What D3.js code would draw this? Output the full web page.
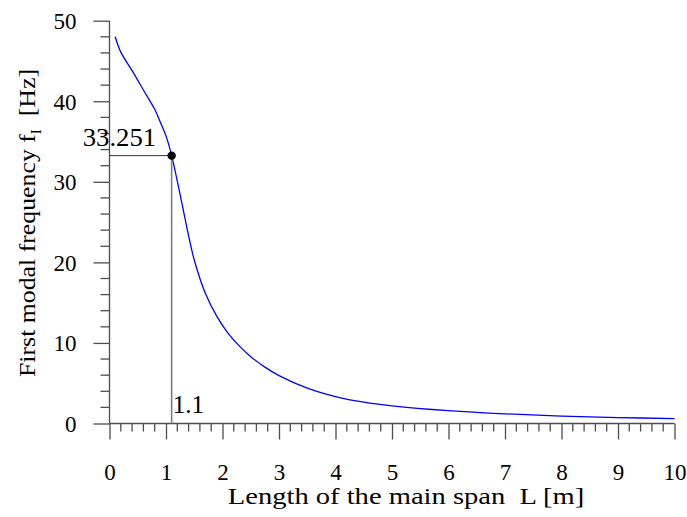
<!DOCTYPE html>
<html>
<head>
<meta charset="utf-8">
<script src="https://cdn.jsdelivr.net/npm/d3@7"></script>
<style>
  html, body { margin: 0; padding: 0; background: #fff; }
  svg { display: block; }
  text { font-family: "Liberation Serif", "Times New Roman", serif; fill: #000; }
</style>
</head>
<body>
<svg id="chart" width="687" height="517"></svg>
<script>
// Span length L [m] and first modal frequency f_I [Hz]
const spanLength = [0.1, 0.2, 0.4, 0.6, 0.8, 0.9, 1.0, 1.1, 1.25, 1.4, 1.5, 1.7, 1.9, 2.1, 2.3, 2.5, 2.75, 3.0, 3.5, 4.0, 4.5, 5.0, 6.0, 7.0, 8.0, 9.0, 10.0];
const frequency  = [48.0, 46.1, 43.8, 41.4, 39.0, 37.4, 35.7, 33.251, 28.4, 23.3, 20.3, 16.1, 13.3, 11.2, 9.6, 8.3, 7.0, 5.95, 4.4, 3.35, 2.65, 2.2, 1.6, 1.2, 0.92, 0.74, 0.6];

// Highlighted design point
const markL = [1.1];
const markF = [33.251];
const markLabels = ["33.251", "1.1"];

const xTicks = [0, 1, 2, 3, 4, 5, 6, 7, 8, 9, 10];
const yTicks = [0, 10, 20, 30, 40, 50];

const svg = d3.select("#chart");
const x = d3.scaleLinear().domain([0, 10]).range([109.5, 674.5]);
const y = d3.scaleLinear().domain([0, 50]).range([423.5, 20.7]);

const axisColor = "#4d4d4d";

// Y axis: major ticks every 10, minor every 2
const yAxisMajor = d3.axisLeft(y).tickValues(yTicks).tickSize(16).tickPadding(17).tickFormat(d3.format("d"));
const gY = svg.append("g").attr("transform", `translate(${x(0)},0)`).call(yAxisMajor);
gY.select(".domain").remove();
gY.selectAll(".tick line").attr("stroke", axisColor).attr("stroke-width", 1.3);
gY.selectAll(".tick text").style("font-size", "23px").attr("dy", "0.34em");

const yMinor = d3.range(0, 50.001, 2).filter(v => v % 10 !== 0);
svg.append("g").selectAll("line").data(yMinor).join("line")
  .attr("x1", x(0) - 9).attr("x2", x(0))
  .attr("y1", d => y(d)).attr("y2", d => y(d))
  .attr("stroke", axisColor).attr("stroke-width", 1.3);

svg.append("line")
  .attr("x1", x(0)).attr("x2", x(0)).attr("y1", y(50)).attr("y2", y(0))
  .attr("stroke", axisColor).attr("stroke-width", 1.3);

// X axis: major ticks every 1, minor every 0.2
const xAxisMajor = d3.axisBottom(x).tickValues(xTicks).tickSize(16).tickPadding(24).tickFormat(d3.format("d"));
const gX = svg.append("g").attr("transform", `translate(0,${y(0)})`).call(xAxisMajor);
gX.select(".domain").remove();
gX.selectAll(".tick line").attr("stroke", axisColor).attr("stroke-width", 1.3);
gX.selectAll(".tick text").style("font-size", "23px");

const xMinor = d3.range(0, 50).map(i => i * 0.2).filter((v, i) => i % 5 !== 0);
svg.append("g").selectAll("line").data(xMinor).join("line")
  .attr("x1", d => x(d)).attr("x2", d => x(d))
  .attr("y1", y(0)).attr("y2", y(0) + 8)
  .attr("stroke", axisColor).attr("stroke-width", 1.3);

svg.append("line")
  .attr("x1", x(0)).attr("x2", x(10)).attr("y1", y(0)).attr("y2", y(0))
  .attr("stroke", axisColor).attr("stroke-width", 1.3);

// Frequency curve
const pts = spanLength.map((L, i) => [L, frequency[i]]);
svg.append("path")
  .datum(pts)
  .attr("fill", "none")
  .attr("stroke", "#0000ff")
  .attr("stroke-width", 1.3)
  .attr("d", d3.line().x(d => x(d[0])).y(d => y(d[1])).curve(d3.curveCatmullRom.alpha(0.5)));

// Guide lines to the design point
svg.append("line")
  .attr("x1", x(0)).attr("x2", x(markL[0]))
  .attr("y1", y(markF[0])).attr("y2", y(markF[0]))
  .attr("stroke", "#333").attr("stroke-width", 1);
svg.append("line")
  .attr("x1", x(markL[0])).attr("x2", x(markL[0]))
  .attr("y1", y(markF[0])).attr("y2", y(0))
  .attr("stroke", "#7f7f7f").attr("stroke-width", 1.6);

svg.append("circle")
  .attr("cx", x(markL[0])).attr("cy", y(markF[0])).attr("r", 4.2)
  .attr("fill", "#000");

svg.append("text")
  .attr("transform", `translate(${x(markL[0]) - 89},${y(markF[0]) - 10}) scale(1.07,1)`)
  .style("font-size", "25px")
  .text(markLabels[0]);
svg.append("text")
  .attr("x", x(markL[0]) + 1).attr("y", y(0) - 11)
  .style("font-size", "25px")
  .text(markLabels[1]);

// Axis titles (set slightly wide)
svg.append("text")
  .attr("transform", "translate(406,504) scale(1.19,1)")
  .attr("text-anchor", "middle")
  .style("font-size", "24px")
  .style("white-space", "pre")
  .text("Length of the main span  L [m]");

const yTitle = svg.append("text")
  .attr("transform", "translate(35,223) rotate(-90) scale(1.075,1)")
  .attr("text-anchor", "middle")
  .style("font-size", "24px")
  .style("white-space", "pre");
yTitle.append("tspan").text("First modal frequency f");
yTitle.append("tspan").attr("dy", 6).style("font-size", "14px").text("I");
yTitle.append("tspan").attr("dy", -6).text("  [Hz]");
</script>
</body>
</html>
